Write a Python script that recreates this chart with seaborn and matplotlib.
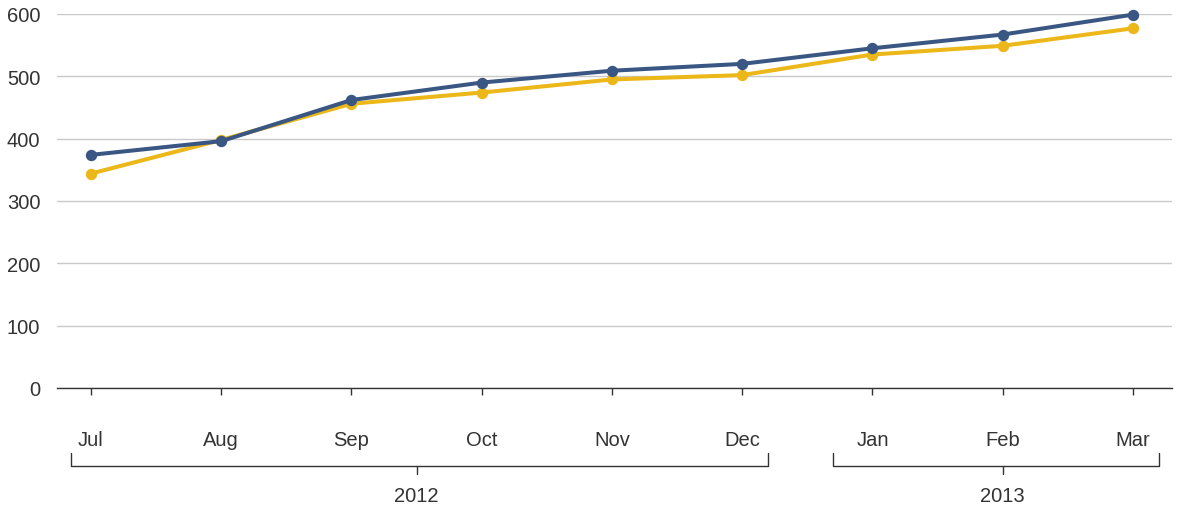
import matplotlib
matplotlib.use("Agg")
import matplotlib.pyplot as plt
from matplotlib.transforms import blended_transform_factory
import numpy as np
import pandas as pd
import seaborn as sns

# Monthly values, July 2012 to March 2013
months = ["Jul", "Aug", "Sep", "Oct", "Nov", "Dec", "Jan", "Feb", "Mar"]
years = ["2012", "2012", "2012", "2012", "2012", "2012", "2013", "2013", "2013"]
series_blue = [374, 396, 462, 490, 509, 520, 545, 567, 599]
series_gold = [344, 398, 456, 474, 495, 502, 535, 549, 577]
y_ticks = [0, 100, 200, 300, 400, 500, 600]

BLUE = "#3a5783"
GOLD = "#ebb719"
TEXT = "#333333"
FS = 14.5

sns.set_theme(style="white")
plt.rcParams["font.family"] = ["Liberation Sans", "DejaVu Sans"]

idx = np.arange(len(months))
df = pd.concat([
    pd.DataFrame({"pos": idx, "value": series_gold, "series": "gold"}),
    pd.DataFrame({"pos": idx, "value": series_blue, "series": "blue"}),
])

W, H = 1179, 510
fig = plt.figure(figsize=(W / 100, H / 100), dpi=100)
ax = fig.add_axes([57 / W, 1 - 389 / H, (1172 - 57) / W, (389 - 15) / H])

sns.lineplot(data=df, x="pos", y="value", hue="series",
             palette={"gold": GOLD, "blue": BLUE}, hue_order=["gold", "blue"],
             linewidth=2.9, marker="o", markersize=8.2, markeredgewidth=0,
             legend=False, ax=ax, clip_on=False)

ax.set_xlim(-0.261, 8.30)
ax.set_ylim(0, 600)
ax.set_yticks(y_ticks)
ax.set_yticklabels([str(v) for v in y_ticks])
ax.set_xticks(idx)
ax.set_xticklabels([])
ax.set_xlabel("")
ax.set_ylabel("")

ax.grid(axis="y", color="#c9c9c9", linewidth=1.0)
ax.set_axisbelow(True)
for side in ["top", "right", "left"]:
    ax.spines[side].set_visible(False)
ax.spines["bottom"].set_color("#333333")
ax.spines["bottom"].set_linewidth(1.0)
ax.tick_params(axis="x", direction="out", length=5, width=1, color="#333333", bottom=True)
ax.tick_params(axis="y", length=0, pad=12, labelsize=FS, labelcolor=TEXT)

def fy(py):
    return 1 - py / H

tr = blended_transform_factory(ax.transData, fig.transFigure)

# Month labels
for i, m in enumerate(months):
    fig.text(i, fy(440), m, transform=tr, ha="center", va="center",
             fontsize=FS, color=TEXT)

# Year brackets
groups = []
for i, y in enumerate(years):
    if groups and groups[-1][0] == y:
        groups[-1][2] = i
    else:
        groups.append([y, i, i])

for g, (label, a, b) in enumerate(groups):
    left = a - 0.15 if g == 0 else a - 0.3
    right = b + 0.2
    mid = (a + b) / 2
    kw = dict(transform=tr, color="#333333", linewidth=1.0, clip_on=False)
    fig.add_artist(plt.Line2D([left, left, right, right],
                              [fy(454), fy(467), fy(467), fy(454)], **kw))
    fig.add_artist(plt.Line2D([mid, mid], [fy(467), fy(475)], **kw))
    fig.text(mid, fy(497), label, transform=tr, ha="center", va="center",
             fontsize=FS, color=TEXT)

fig.savefig("out.png", dpi=100)
